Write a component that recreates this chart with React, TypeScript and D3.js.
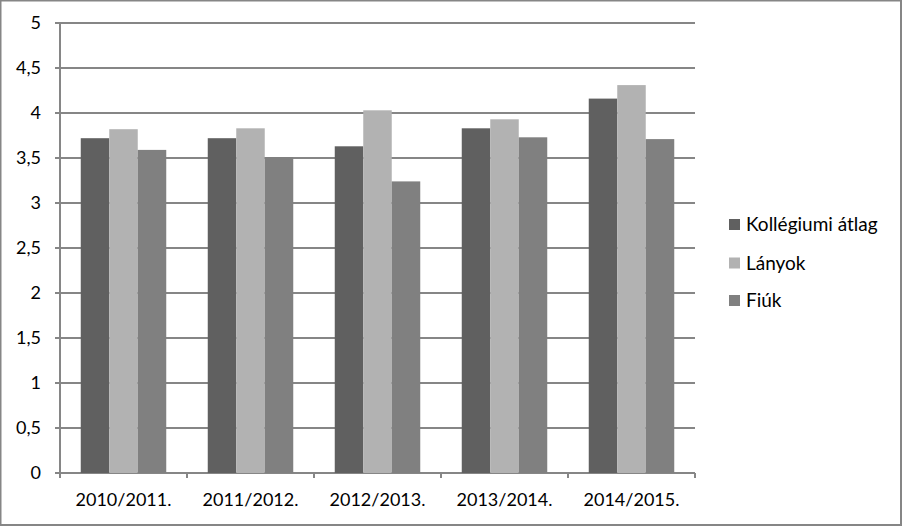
import React from "react";
import * as d3 from "d3";

const categories = ["2010/2011.", "2011/2012.", "2012/2013.", "2013/2014.", "2014/2015."];
const seriesNames = ["Kollégiumi átlag", "Lányok", "Fiúk"];
const atlag = [3.72, 3.72, 3.63, 3.83, 4.16];
const lanyok = [3.82, 3.83, 4.03, 3.93, 4.31];
const fiuk = [3.59, 3.51, 3.24, 3.73, 3.71];
const yTicks = [0, 0.5, 1, 1.5, 2, 2.5, 3, 3.5, 4, 4.5, 5];
const colors = ["#606060", "#b2b2b2", "#808080"];

const W = 902;
const H = 527;
const left = 60;
const right = 695;
const top = 23;
const bottom = 473;
const FONT = "Lato, 'Open Sans', sans-serif";
const FS = 18;
const LEGEND_FS = 19;

export default function App() {
  const series = [atlag, lanyok, fiuk];
  const x = d3.scaleBand<string>().domain(categories).range([left, right]).paddingInner(0).paddingOuter(0);
  const inner = d3
    .scaleBand<number>()
    .domain([0, 1, 2])
    .range([0, x.bandwidth()])
    .paddingOuter(0.728)
    .paddingInner(0);
  const y = d3.scaleLinear().domain([0, 5]).range([bottom, top]);
  const grid = "#868686";
  const fmt = (v: number) => String(v).replace(".", ",");

  return (
    <div style={{ position: "absolute", left: 0, top: 0 }}>
      <svg width={W} height={H} style={{ display: "block" }}>
        <rect x={0} y={0} width={W} height={H} fill="#fff" />
        <rect x={0.5} y={0.5} width={900.5} height={524.5} fill="none" stroke={grid} strokeWidth={2} />
        {yTicks.map((t) => (
          <g key={t}>
            <line x1={left - 5} x2={right} y1={y(t)} y2={y(t)} stroke={grid} strokeWidth={2} />
            <text
              x={left - 19}
              y={y(t)}
              dy="0.35em"
              textAnchor="end"
              fontFamily={FONT}
              fontSize={FS}
              fill="#000"
            >
              {fmt(t)}
            </text>
          </g>
        ))}
        <line x1={left} x2={left} y1={top} y2={bottom} stroke={grid} strokeWidth={2} />
        {categories.map((c, i) =>
          series.map((s, k) => (
            <rect
              key={c + k}
              x={(x(c) as number) + (inner(k) as number)}
              y={y(s[i])}
              width={inner.bandwidth()}
              height={bottom - y(s[i])}
              fill={colors[k]}
            />
          ))
        )}
        {[...categories.map((c) => x(c) as number), right].map((px, i) => (
          <line key={i} x1={px} x2={px} y1={bottom} y2={bottom + 5} stroke={grid} strokeWidth={2} />
        ))}
        {categories.map((c) => (
          <text
            key={c}
            x={(x(c) as number) + x.bandwidth() / 2}
            y={506}
            textAnchor="middle"
            fontFamily={FONT}
            fontSize={FS}
            fill="#000"
          >
            {c}
          </text>
        ))}
        {seriesNames.map((n, k) => {
          const cy = [224.5, 263, 300.5][k];
          return (
            <g key={n}>
              <rect x={729} y={cy - 5.5} width={11} height={11} fill={colors[k]} />
              <text x={746} y={cy} dy="0.35em" fontFamily={FONT} fontSize={LEGEND_FS} fill="#000">
                {n}
              </text>
            </g>
          );
        })}
      </svg>
    </div>
  );
}
